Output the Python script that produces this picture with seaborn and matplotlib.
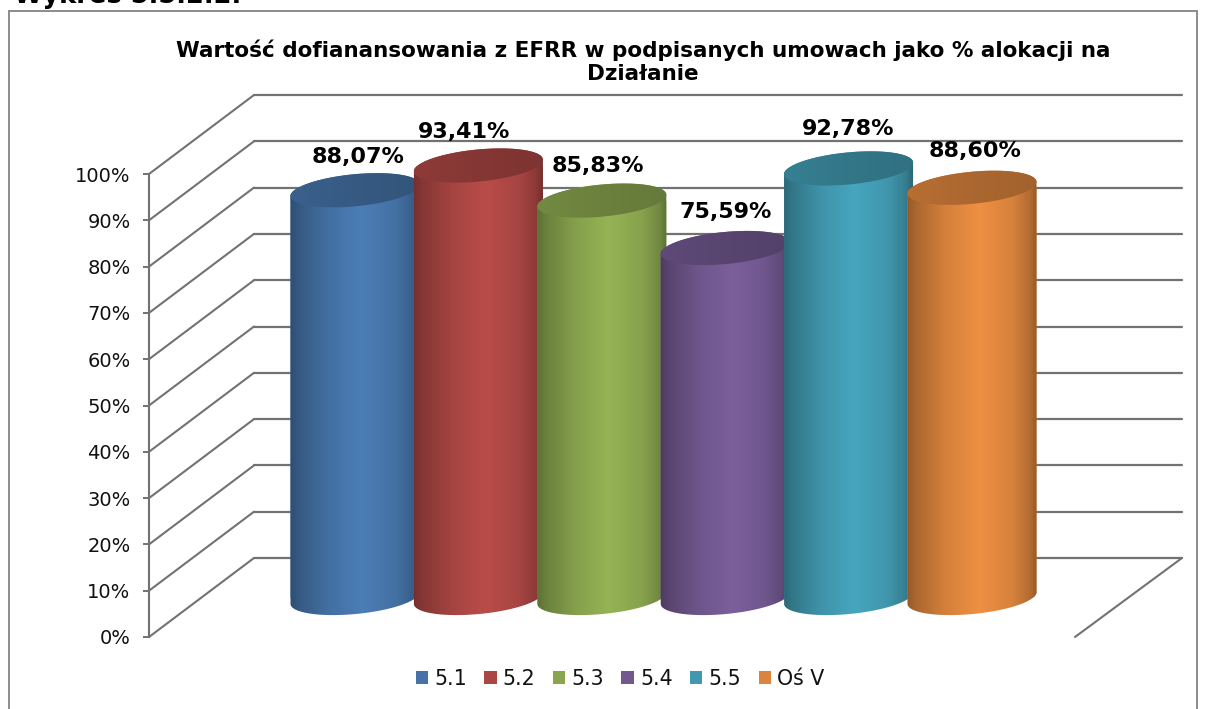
import numpy as np
import matplotlib
matplotlib.use("Agg")
import matplotlib.pyplot as plt
from matplotlib.patches import Polygon, Rectangle, Patch, ConnectionPatch
from matplotlib.ticker import FuncFormatter, MultipleLocator
import seaborn as sns

categories = ["5.1", "5.2", "5.3", "5.4", "5.5", "Oś V"]
values = [88.07, 93.41, 85.83, 75.59, 92.78, 88.60]
colors = ["#4573a7", "#aa4643", "#89a54e", "#71588f", "#4198af", "#db843d"]
title = "Wartość dofianansowania z EFRR w podpisanych umowach jako % alokacji na\nDziałanie"
clipped_heading = "Wykres 5.5.2.2."
label_shift_x_px = [3, -14, -4, 0, 0, 3]
label_shift_y_px = [-3, -3, -2, 0, 3, 1]

W, H = 1210, 709
GRID = "#727272"
sns.set_theme(style="white")
plt.rcParams["font.family"] = ["DejaVu Sans"]

fig = plt.figure(figsize=(W / 100, H / 100), dpi=100, facecolor="white")


def axes_px(x0, x1, ytop, ybot):
    return fig.add_axes([x0 / W, 1 - ybot / H, (x1 - x0) / W, (ybot - ytop) / H])


# Back wall
ax_back = axes_px(254, 1182, 95, 558)
ax_back.set(xlim=(0, 1), ylim=(0, 100))
ax_back.patch.set_visible(False)
ax_back.yaxis.set_major_locator(MultipleLocator(10))
ax_back.grid(axis="y", color=GRID, lw=1.6)
ax_back.grid(axis="x", visible=False)
ax_back.tick_params(left=False, bottom=False, labelleft=False, labelbottom=False)
sns.despine(ax=ax_back, left=True, bottom=True)
ax_back.set_axisbelow(True)
for gl in ax_back.get_ygridlines():
    gl.set_clip_on(False)

# Front value axis
ax_front = axes_px(149, 1075, 174, 637)
ax_front.set(xlim=(0, 1), ylim=(0, 100))
ax_front.patch.set_visible(False)
ax_front.yaxis.set_major_locator(MultipleLocator(10))
ax_front.yaxis.set_major_formatter(FuncFormatter(lambda v, _: f"{v:.0f}%"))
ax_front.tick_params(axis="y", left=True, length=4.5, width=1.4, color=GRID,
                     labelsize=14, labelcolor="#111111", pad=8.8)
ax_front.tick_params(axis="x", bottom=False, labelbottom=False)
sns.despine(ax=ax_front, bottom=True)
ax_front.spines["left"].set_color(GRID)
ax_front.spines["left"].set_linewidth(1.5)

# Side wall and floor edge
for v in np.arange(0, 101, 10):
    fig.add_artist(ConnectionPatch((0, v), (0, v), ax_front.transData, ax_back.transData,
                                   color=GRID, lw=1.5, zorder=0.5))
fig.add_artist(ConnectionPatch((1, 0), (1, 0), ax_front.transData, ax_back.transData,
                               color=GRID, lw=1.5, zorder=0.5))

# Bars: full-figure axes, category spacing 123.4 px, 4.63 px per percent
ax = fig.add_axes([0, 0, 1, 1])
ax.patch.set_visible(False)
ax.set_zorder(2)
sns.barplot(x=categories, y=values, hue=categories, palette=colors, order=categories,
            hue_order=categories, dodge=False, width=1.05, legend=False, saturation=1, ax=ax)
sx, sy = 123.4, 4.63
ax.set_xlim(-355 / sx, (W - 355) / sx)
ax.set_ylim((598 - H) / sy, 598 / sy)
ax.axis("off")

A_TILT = np.deg2rad(5.5)
B_PX = 16.0


def ellipse_pts(cx, v, a_px, t):
    dx = a_px * np.cos(t) * np.cos(A_TILT) - B_PX * np.sin(t) * np.sin(A_TILT)
    dy = a_px * np.cos(t) * np.sin(A_TILT) + B_PX * np.sin(t) * np.cos(A_TILT)
    return np.column_stack([cx + dx / sx, v + dy / sy])


xs = np.linspace(0, 1, 128)
body_profile = np.interp(xs, [0, 0.08, 0.3, 0.55, 0.8, 0.93, 1],
                         [0.66, 0.78, 0.97, 1.09, 0.98, 0.82, 0.62])
cap_profile = np.interp(xs, [0, 0.5, 1], [0.84, 0.78, 0.74])

bars = sorted(ax.patches, key=lambda p: p.get_x())
for i, (bar, color, val) in enumerate(zip(bars, colors, values)):
    x, w = bar.get_x(), bar.get_width()
    cx = x + w / 2
    a_px = w * sx / 2
    rgb = np.array(matplotlib.colors.to_rgb(color))
    z = 3 + i

    t_low = np.linspace(np.pi, 2 * np.pi, 80)
    t_up = np.linspace(0, np.pi, 80)
    outline = np.vstack([ellipse_pts(cx, 0, a_px, t_low), ellipse_pts(cx, val, a_px, t_up)])
    body = Polygon(outline, closed=True, transform=ax.transData, fc="none", ec="none")
    ax.add_patch(body)
    bar.set_clip_path(body)
    bar.set_zorder(z)
    bar.set_edgecolor("none")
    grad = np.clip(rgb[None, None, :] * body_profile[None, :, None], 0, 1)
    im = ax.imshow(grad, extent=(x - 0.02, x + w + 0.02, -8, val + 8), aspect="auto",
                   interpolation="bilinear", zorder=z + 0.1)
    im.set_clip_path(body)

    t_all = np.linspace(0, 2 * np.pi, 160)
    cap = Polygon(ellipse_pts(cx, val, a_px, t_all), closed=True, transform=ax.transData,
                  fc="none", ec="none")
    ax.add_patch(cap)
    cgrad = np.clip(rgb[None, None, :] * cap_profile[None, :, None], 0, 1)
    cim = ax.imshow(cgrad, extent=(x - 0.02, x + w + 0.02, val - 8, val + 8), aspect="auto",
                    interpolation="bilinear", zorder=z + 0.2)
    cim.set_clip_path(cap)

    ax.annotate(f"{val:.2f}%".replace(".", ","), (cx, val),
                xytext=(label_shift_x_px[i] * 0.72, 26 + label_shift_y_px[i] * 0.72),
                textcoords="offset points", ha="center", va="center",
                fontsize=16, fontweight="bold", color="black", zorder=20)

ax.set_xlim(-355 / sx, (W - 355) / sx)
ax.set_ylim((598 - H) / sy, 598 / sy)

# Legend
handles = [Patch(fc=c, ec="none", label=l) for c, l in zip(colors, categories)]
fig.legend(handles=handles, loc="center", bbox_to_anchor=(620 / W, 1 - 679 / H), ncol=6,
           frameon=False, fontsize=14.8, handlelength=0.6, handleheight=0.6,
           handletextpad=0.3, columnspacing=0.85, labelcolor="#111111")

# Title, clipped heading, outer frame
fig.text(643 / W, 1 - 61.5 / H, title, ha="center", va="center", fontsize=15.45,
         fontweight="bold", color="black", linespacing=1.2)
fig.text(14 / W, 1 - 3 / H, clipped_heading, ha="left", va="baseline", fontsize=18.5,
         fontweight="bold", color="black")
fig.add_artist(Rectangle((8.5 / W, -0.01), (1197 - 8.5) / W, 1 - 11 / H + 0.01,
                         transform=fig.transFigure, fc="none", ec="#8c8c8c", lw=1.4, zorder=0.2))

fig.savefig("out.png", dpi=100)
